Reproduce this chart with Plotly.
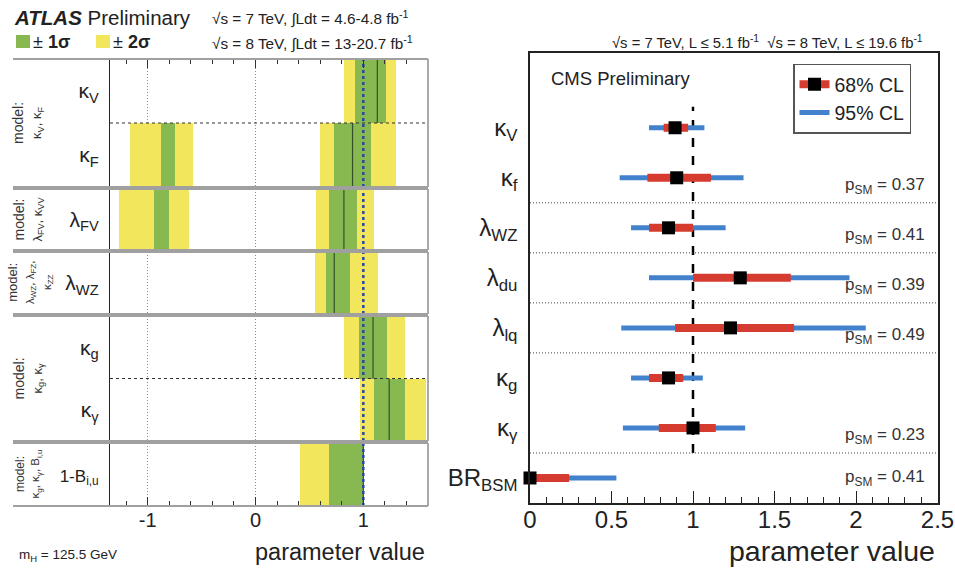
import plotly.graph_objects as go

W, H = 955, 569
def PX(x):
    return x / W
def PY(y):
    return 1 - y / H

FONT = "Liberation Sans, Arial, Helvetica, sans-serif"
GREEN = "#88b850"
YELLOW = "#f1e65c"
SMBLUE = "#2a46a8"
CMS_BLUE = "#4282cc"
CMS_RED = "#d63b30"

# ---------------- ATLAS (left) data ----------------
atlas_labels = ["κ<sub>V</sub>", "κ<sub>F</sub>", "λ<sub>FV</sub>", "λ<sub>WZ</sub>",
                "κ<sub>g</sub>", "κ<sub>γ</sub>",
                "<span style='font-size:17px'>1-B<sub>i,u</sub></span>"]
atlas_group = [0, 0, 1, 2, 3, 3, 4]
atlas_central = [1.13, 0.90, 0.82, 0.73, 1.09, 1.24, 1.00]
atlas_1sigma = [[(0.92, 1.21)],
                [(-0.88, -0.75), (0.73, 1.07)],
                [(-0.94, -0.80), (0.68, 0.94)],
                [(0.65, 0.88)],
                [(0.96, 1.22)],
                [(1.10, 1.39)],
                [(0.68, 1.00)]]
atlas_2sigma = [[(0.82, 1.30)],
                [(-1.16, -0.58), (0.60, 1.30)],
                [(-1.27, -0.62), (0.56, 1.10)],
                [(0.55, 1.14)],
                [(0.82, 1.39)],
                [(0.97, 1.58)],
                [(0.41, 1.00)]]
SUBF = "<span style='font-size:13px'>"
SUBS = "<span style='font-size:11.5px'>"
atlas_models = ["model:<br>" + SUBF + "κ<sub>V</sub>, κ<sub>F</sub></span>",
                "model:<br>" + SUBF + "λ<sub>FV</sub>, κ<sub>VV</sub></span>",
                "model:<br>" + SUBS + "λ<sub>WZ</sub>, λ<sub>FZ</sub>,</span><br>" + SUBS + "κ<sub>ZZ</sub></span>",
                "model:<br>" + SUBF + "κ<sub>g</sub>, κ<sub>γ</sub></span>",
                "model:<br>" + SUBS + "κ<sub>g</sub>, κ<sub>γ</sub>, B<sub>i,u</sub></span>"]
atlas_model_size = [14, 14, 13, 14, 12]
atlas_tickvals = [-1, 0, 1]
atlas_ticktext = ["-1", "0", "1"]
atlas_range = [-1.35, 1.6]
atlas_sm = 1.0

# ---------------- CMS (right) data ----------------
cms_labels = ["κ<sub>V</sub>", "κ<sub>f</sub>", "λ<sub>WZ</sub>", "λ<sub>du</sub>",
              "λ<sub>lq</sub>", "κ<sub>g</sub>", "κ<sub>γ</sub>", "BR<sub>BSM</sub>"]
cms_group = [0, 0, 1, 2, 3, 4, 4, 5]
cms_best = [0.89, 0.90, 0.85, 1.29, 1.23, 0.85, 1.00, 0.00]
cms_68_lo = [0.82, 0.72, 0.73, 1.00, 0.89, 0.73, 0.79, 0.00]
cms_68_hi = [0.97, 1.11, 1.00, 1.60, 1.62, 0.94, 1.14, 0.24]
cms_95_lo = [0.73, 0.55, 0.62, 0.73, 0.56, 0.62, 0.57, 0.00]
cms_95_hi = [1.07, 1.31, 1.20, 1.96, 2.06, 1.06, 1.32, 0.53]
cms_psm = [0.37, 0.41, 0.39, 0.49, 0.23, 0.41]
cms_range = [0, 2.5]
cms_sm = 1.0

fig = go.Figure()

# ---------------- left panel ----------------
group_px = [(59, 187), (189, 250), (252, 314), (316, 441), (443, 506)]
left_dom_x = [PX(110), PX(428)]
layout_axes = {}
shapes = []
annotations = []

for g, (top, bot) in enumerate(group_px):
    rows = [i for i in range(len(atlas_labels)) if atlas_group[i] == g]
    n = len(rows)
    local = {i: n - 1 - k for k, i in enumerate(rows)}
    sfx = "" if g == 0 else str(g + 1)
    xa, ya = "x" + sfx, "y" + sfx

    for bands, col in ((atlas_2sigma, YELLOW), (atlas_1sigma, GREEN)):
        ys, xs, bs = [], [], []
        for i in rows:
            for lo, hi in bands[i]:
                ys.append(local[i]); bs.append(lo); xs.append(hi - lo)
        fig.add_trace(go.Bar(orientation="h", y=ys, x=xs, base=bs, width=1,
                             marker=dict(color=col, line_width=0),
                             xaxis=xa, yaxis=ya, showlegend=False, hoverinfo="skip"))
    cx, cy = [], []
    for i in rows:
        cx += [atlas_central[i], atlas_central[i], None]
        cy += [local[i] - 0.5, local[i] + 0.5, None]
    fig.add_trace(go.Scatter(x=cx, y=cy, mode="lines", line=dict(color="#34502a", width=1.2),
                             xaxis=xa, yaxis=ya, showlegend=False, hoverinfo="skip"))
    fig.add_trace(go.Scatter(x=[atlas_sm, atlas_sm], y=[-0.5, n - 0.5], mode="lines",
                             line=dict(color=SMBLUE, width=2.5, dash="dot"),
                             xaxis=xa, yaxis=ya, showlegend=False, hoverinfo="skip"))

    xdict = dict(domain=left_dom_x, range=atlas_range, anchor=ya, showgrid=True, automargin=False,
                 gridcolor="#8a8a8a", griddash="1px,2px", gridwidth=1,
                 tickmode="array", tickvals=atlas_tickvals, ticktext=atlas_ticktext,
                 zeroline=False, showline=False, showticklabels=False, ticks="")
    if g == 0:
        xdict.update(side="top", ticks="inside", ticklen=9, tickcolor="#333",
                     minor=dict(dtick=0.2, tick0=0, ticks="inside", ticklen=5,
                                tickcolor="#333", showgrid=False))
    if g == len(group_px) - 1:
        xdict.update(ticks="inside", ticklen=9, tickcolor="#333", showticklabels=True,
                     tickfont=dict(size=20, color="#222"),
                     minor=dict(dtick=0.2, tick0=0, ticks="inside", ticklen=5,
                                tickcolor="#333", showgrid=False))
    ydict = dict(domain=[PY(bot), PY(top)], range=[-0.5, n - 0.5], anchor=xa, automargin=False,
                 tickmode="array", tickvals=[local[i] for i in rows],
                 ticktext=[atlas_labels[i] for i in rows], ticks="",
                 tickfont=dict(size=21, color="#222"), ticklabelstandoff=6,
                 showline=True, linecolor="#222", linewidth=1.2,
                 showgrid=False, zeroline=False, fixedrange=True)
    layout_axes["xaxis" + sfx] = xdict
    layout_axes["yaxis" + sfx] = ydict

    for yy in (top, bot):
        shapes.append(dict(type="line", xref="paper", yref="paper", x0=PX(13), x1=PX(428),
                           y0=PY(yy), y1=PY(yy), line=dict(color="#a0a0a0", width=1.8)))
    shapes.append(dict(type="line", xref="paper", yref="paper", x0=PX(428), x1=PX(428),
                       y0=PY(top), y1=PY(bot), line=dict(color="#a0a0a0", width=1.8)))
    if n > 1:
        for k in range(n - 1):
            shapes.append(dict(type="line", xref=xa + " domain", yref=ya, x0=0, x1=1,
                               y0=k + 0.5, y1=k + 0.5, line=dict(color="#333", width=1, dash="dot")))
    annotations.append(dict(x=PX(28 if g != 2 else 30), y=PY((top + bot) / 2), xref="paper", yref="paper",
                            text=atlas_models[g], textangle=-90, showarrow=False,
                            font=dict(size=atlas_model_size[g], color="#333"), align="center",
                            xanchor="center", yanchor="middle"))

# ---------------- right panel ----------------
n_cms = len(cms_labels)
cy_pos = [n_cms - 1 - i for i in range(n_cms)]

bx, by, rx, ry = [], [], [], []
for i in range(n_cms):
    bx += [cms_95_lo[i], cms_95_hi[i], None]; by += [cy_pos[i], cy_pos[i], None]
    rx += [cms_68_lo[i], cms_68_hi[i], None]; ry += [cy_pos[i], cy_pos[i], None]

sm_top = 7.42
sep_y = [(cy_pos[i] + cy_pos[i + 1]) / 2 for i in range(n_cms - 1) if cms_group[i] != cms_group[i + 1]]
fig.add_trace(go.Scatter(x=[cms_sm, cms_sm], y=[min(sep_y), sm_top], mode="lines",
                         line=dict(color="black", width=2.5, dash="dash"),
                         xaxis="x6", yaxis="y6", showlegend=False, hoverinfo="skip"))
fig.add_trace(go.Scatter(x=bx, y=by, mode="lines", name="95% CL",
                         line=dict(color=CMS_BLUE, width=5), legendrank=2,
                         xaxis="x6", yaxis="y6", hoverinfo="skip"))
fig.add_trace(go.Scatter(x=rx, y=ry, mode="lines", name="68% CL",
                         line=dict(color=CMS_RED, width=8), showlegend=False,
                         xaxis="x6", yaxis="y6", hoverinfo="skip"))
fig.add_trace(go.Scatter(x=cms_best, y=cy_pos, mode="markers", showlegend=False,
                         marker=dict(symbol="square", size=13, color="black"), cliponaxis=False,
                         xaxis="x6", yaxis="y6", hoverinfo="skip"))
fig.add_trace(go.Scatter(x=[None], y=[None], mode="lines+markers", name="68% CL",
                         line=dict(color=CMS_RED, width=8), legendrank=1,
                         marker=dict(symbol="square", size=13, color="black"),
                         xaxis="x6", yaxis="y6", hoverinfo="skip"))

for yv in sep_y:
    shapes.append(dict(type="line", xref="x6 domain", yref="y6", x0=0, x1=1, y0=yv, y1=yv,
                       line=dict(color="#444", width=1, dash="1px,2px")))

last_rows = [i for i in range(n_cms) if i == n_cms - 1 or cms_group[i] != cms_group[i + 1]]
for k, i in enumerate(last_rows):
    off = -0.17 if i != n_cms - 1 else 0.0
    annotations.append(dict(x=0.975, y=cy_pos[i] + off, xref="x6 domain", yref="y6",
                            text=f"p<sub>SM</sub> = {cms_psm[k]:.2f}", showarrow=False,
                            xanchor="right", yanchor="middle", font=dict(size=17, color="#333")))

layout_axes["xaxis6"] = dict(domain=[PX(530), PX(937.5)], range=cms_range, anchor="y6", automargin=False,
                             tickmode="linear", tick0=0, dtick=0.5, ticks="inside", ticklen=12,
                             tickcolor="#222", tickwidth=1.2, ticklabelstandoff=-6,
                             minor=dict(dtick=0.1, tick0=0, ticks="inside", ticklen=6,
                                        tickcolor="#222", showgrid=False),
                             showline=True, mirror=True, linecolor="#222", linewidth=1.5,
                             showgrid=False, zeroline=False,
                             tickfont=dict(size=24, color="#222"))
layout_axes["yaxis6"] = dict(domain=[PY(503), PY(52.7)], range=[-0.5, n_cms + 0.5], anchor="x6",
                             automargin=False,
                             tickmode="array", tickvals=cy_pos, ticktext=cms_labels, ticks="",
                             tickfont=dict(size=24, color="#222"), ticklabelstandoff=6,
                             showline=True, mirror=True, linecolor="#222", linewidth=1.5,
                             showgrid=False, zeroline=False)

# ---------------- texts ----------------
def txt(x, y, s, size, xanchor="left", color="#222"):
    annotations.append(dict(x=PX(x), y=PY(y), xref="paper", yref="paper", text=s,
                            showarrow=False, xanchor=xanchor, yanchor="middle",
                            font=dict(size=size, color=color)))

txt(12, 18, "<b><i>ATLAS</i></b> Preliminary", 20.5)
txt(210, 18, "√s = 7 TeV, ∫Ldt = 4.6-4.8 fb<sup>-1</sup>", 15.3)
txt(210, 43, "√s = 8 TeV, ∫Ldt = 13-20.7 fb<sup>-1</sup>", 15.3)
txt(31, 42, "± <b>1σ</b>", 18)
txt(111, 42, "± <b>2σ</b>", 18)
shapes.append(dict(type="rect", xref="paper", yref="paper", x0=PX(16), x1=PX(30), y0=PY(48), y1=PY(35),
                   fillcolor=GREEN, line_width=0))
shapes.append(dict(type="rect", xref="paper", yref="paper", x0=PX(96), x1=PX(110), y0=PY(48), y1=PY(35),
                   fillcolor=YELLOW, line_width=0))
txt(427, 552, "parameter value", 23.5, xanchor="right")
txt(17, 555, "m<sub>H</sub> = 125.5 GeV", 13.5)

txt(610, 42, "√s = 7 TeV, L ≤ 5.1 fb<sup>-1</sup>  √s = 8 TeV, L ≤ 19.6 fb<sup>-1</sup>", 14.8)
txt(549, 78, "CMS Preliminary", 18.5)
txt(937, 551, "parameter value", 28.5, xanchor="right")

fig.update_layout(
    width=W, height=H, margin=dict(l=0, r=0, t=0, b=0, autoexpand=False),
    paper_bgcolor="white", plot_bgcolor="white",
    font=dict(family=FONT, color="#222"),
    barmode="overlay", bargap=0,
    shapes=shapes, annotations=annotations,
    legend=dict(x=PX(793), y=PY(63.5), xanchor="left", yanchor="top",
                bordercolor="#555", borderwidth=1.5, bgcolor="white",
                font=dict(size=19.5, color="#222"), itemwidth=30, tracegroupgap=0),
    **layout_axes,
)

fig.write_html("out.html")
